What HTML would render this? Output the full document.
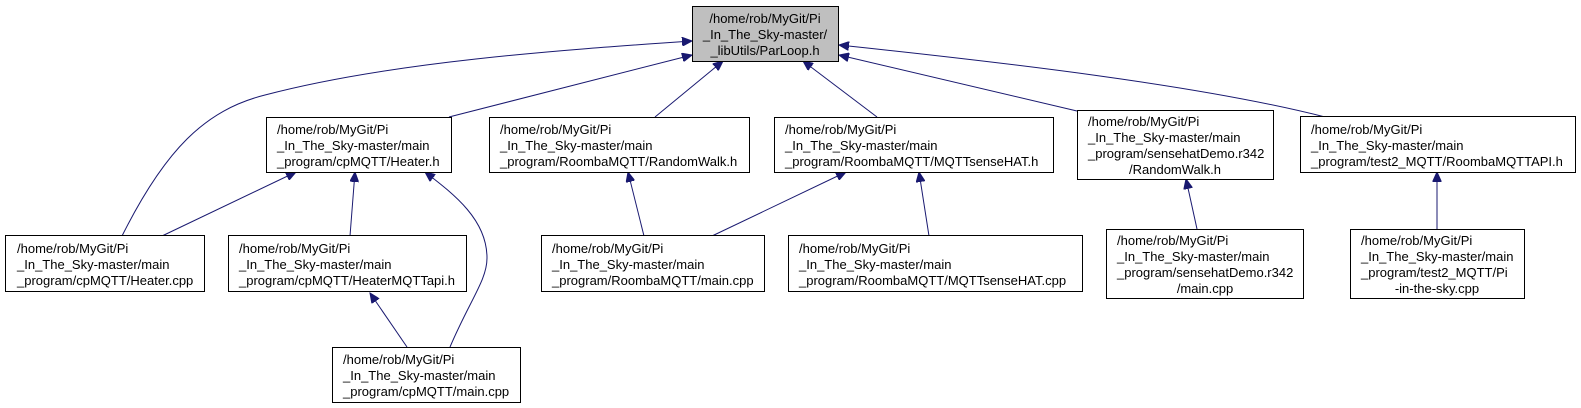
<!DOCTYPE html>
<html><head><meta charset="utf-8"><style>
html,body{margin:0;padding:0;background:#fff;}
svg{display:block;}
text{font-family:"Liberation Sans",Arial,sans-serif;font-size:13px;fill:#000;}
.b{fill:#fff;stroke:#000;stroke-width:1;}
.e{fill:none;stroke:#191970;stroke-width:1;}
</style></head><body>
<svg width="1581" height="408" viewBox="0 0 1581 408" xmlns="http://www.w3.org/2000/svg">
<defs><marker id="a" markerWidth="11" markerHeight="9" refX="10" refY="4.5" orient="auto" markerUnits="userSpaceOnUse"><path d="M0,0 L10,4.5 L0,9 z" fill="#191970" stroke="#191970"/></marker></defs>

<!-- edges -->
<path class="e" marker-end="url(#a)" d="M122,236 C165,150 205,110 265,95 C390,62 560,50 692,41"/>
<path class="e" marker-end="url(#a)" d="M449,117 L692,55"/>
<path class="e" marker-end="url(#a)" d="M655,117 L723,61"/>
<path class="e" marker-end="url(#a)" d="M877,117 L803,61"/>
<path class="e" marker-end="url(#a)" d="M1077,111 L839,55"/>
<path class="e" marker-end="url(#a)" d="M1325,117 C1200,85 1000,62 839,45"/>
<path class="e" marker-end="url(#a)" d="M162,236 L296,172"/>
<path class="e" marker-end="url(#a)" d="M350,236 L355,172"/>
<path class="e" marker-end="url(#a)" d="M450,347 C470,300 487,280 487,258 C487,220 455,195 425,172"/>
<path class="e" marker-end="url(#a)" d="M407,347 L370,293"/>
<path class="e" marker-end="url(#a)" d="M644,236 L628,172"/>
<path class="e" marker-end="url(#a)" d="M712,236 L846,172"/>
<path class="e" marker-end="url(#a)" d="M929,236 L919,172"/>
<path class="e" marker-end="url(#a)" d="M1197,229 L1186,179"/>
<path class="e" marker-end="url(#a)" d="M1437,229 L1437,172"/>

<!-- root -->
<rect x="692.5" y="6.5" width="146" height="55" fill="#bfbfbf" stroke="#000"/>
<text x="765" y="23" text-anchor="middle">/home/rob/MyGit/Pi</text>
<text x="765" y="39" text-anchor="middle">_In_The_Sky-master/</text>
<text x="765" y="55" text-anchor="middle">_libUtils/ParLoop.h</text>

<!-- row 2 -->
<rect class="b" x="266.5" y="117.5" width="185" height="55"/>
<text x="277" y="134">/home/rob/MyGit/Pi</text><text x="277" y="150">_In_The_Sky-master/main</text><text x="277" y="166">_program/cpMQTT/Heater.h</text>

<rect class="b" x="489.5" y="117.5" width="260" height="55"/>
<text x="500" y="134">/home/rob/MyGit/Pi</text><text x="500" y="150">_In_The_Sky-master/main</text><text x="500" y="166">_program/RoombaMQTT/RandomWalk.h</text>

<rect class="b" x="774.5" y="117.5" width="279" height="55"/>
<text x="785" y="134">/home/rob/MyGit/Pi</text><text x="785" y="150">_In_The_Sky-master/main</text><text x="785" y="166">_program/RoombaMQTT/MQTTsenseHAT.h</text>

<rect class="b" x="1077.5" y="110.5" width="196" height="69"/>
<text x="1088" y="126">/home/rob/MyGit/Pi</text><text x="1088" y="142">_In_The_Sky-master/main</text><text x="1088" y="158">_program/sensehatDemo.r342</text><text x="1175" y="174" text-anchor="middle">/RandomWalk.h</text>

<rect class="b" x="1300.5" y="116.5" width="275" height="56"/>
<text x="1311" y="134">/home/rob/MyGit/Pi</text><text x="1311" y="150">_In_The_Sky-master/main</text><text x="1311" y="166">_program/test2_MQTT/RoombaMQTTAPI.h</text>

<!-- row 3 -->
<rect class="b" x="5.5" y="235.5" width="199" height="56"/>
<text x="17" y="253">/home/rob/MyGit/Pi</text><text x="17" y="269">_In_The_Sky-master/main</text><text x="17" y="285">_program/cpMQTT/Heater.cpp</text>

<rect class="b" x="228.5" y="235.5" width="238" height="56"/>
<text x="239" y="253">/home/rob/MyGit/Pi</text><text x="239" y="269">_In_The_Sky-master/main</text><text x="239" y="285">_program/cpMQTT/HeaterMQTTapi.h</text>

<rect class="b" x="541.5" y="235.5" width="223" height="56"/>
<text x="552" y="253">/home/rob/MyGit/Pi</text><text x="552" y="269">_In_The_Sky-master/main</text><text x="552" y="285">_program/RoombaMQTT/main.cpp</text>

<rect class="b" x="788.5" y="235.5" width="294" height="56"/>
<text x="799" y="253">/home/rob/MyGit/Pi</text><text x="799" y="269">_In_The_Sky-master/main</text><text x="799" y="285">_program/RoombaMQTT/MQTTsenseHAT.cpp</text>

<rect class="b" x="1106.5" y="229.5" width="197" height="69"/>
<text x="1117" y="245">/home/rob/MyGit/Pi</text><text x="1117" y="261">_In_The_Sky-master/main</text><text x="1117" y="277">_program/sensehatDemo.r342</text><text x="1205" y="293" text-anchor="middle">/main.cpp</text>

<rect class="b" x="1350.5" y="229.5" width="174" height="69"/>
<text x="1361" y="245">/home/rob/MyGit/Pi</text><text x="1361" y="261">_In_The_Sky-master/main</text><text x="1361" y="277">_program/test2_MQTT/Pi</text><text x="1437" y="293" text-anchor="middle">-in-the-sky.cpp</text>

<!-- row 4 -->
<rect class="b" x="332.5" y="347.5" width="188" height="55"/>
<text x="343" y="364">/home/rob/MyGit/Pi</text><text x="343" y="380">_In_The_Sky-master/main</text><text x="343" y="396">_program/cpMQTT/main.cpp</text>
</svg>
</body></html>
